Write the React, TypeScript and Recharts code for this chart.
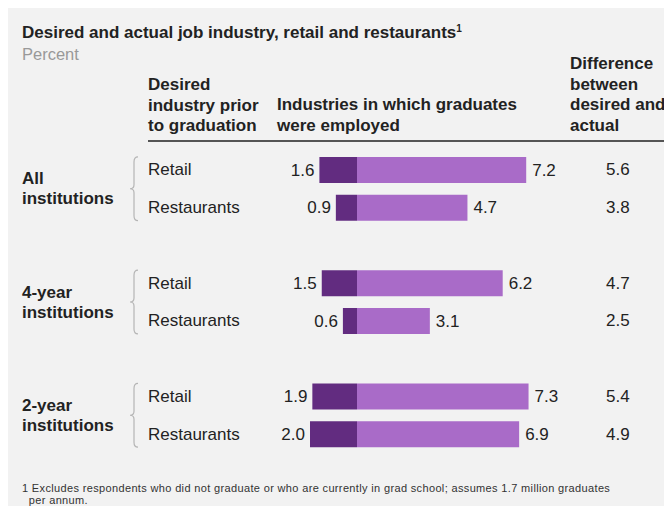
import React from "react";
import { BarChart, Bar, XAxis, YAxis, LabelList } from "recharts";

const groups = [["All", "institutions"], ["4-year", "institutions"], ["2-year", "institutions"]];
const industries = ["Retail", "Restaurants"];
const desired = [1.6, 0.9, 1.5, 0.6, 1.9, 2.0];
const actual = [7.2, 4.7, 6.2, 3.1, 7.3, 6.9];
const difference = [5.6, 3.8, 4.7, 2.5, 5.4, 4.9];

const W = 664;
const H = 498;
const TOP = 143;
const BOTTOM = 445;
const FONT = '"Liberation Sans", Arial, Helvetica, sans-serif';
const DARK = "#622c80";
const LIGHT = "#a96bc8";
const TEXT = "#222";
const FS = 17;

interface Row {
  id: string;
  group: number;
  first: boolean;
  industry: string;
  desired: number | null;
  actual: number | null;
  diff: number | null;
}

const rows: Row[] = [];
groups.forEach((_, g) => {
  industries.forEach((ind, i) => {
    const k = g * industries.length + i;
    rows.push({
      id: `r${rows.length}`,
      group: g,
      first: i === 0,
      industry: ind,
      desired: -desired[k],
      actual: actual[k],
      diff: difference[k],
    });
  });
  if (g < groups.length - 1) {
    rows.push({ id: `r${rows.length}`, group: -1, first: false, industry: "", desired: null, actual: null, diff: null });
  }
});

const STEP = (BOTTOM - TOP) / rows.length;

function RowTick(props: any) {
  const { y, payload } = props;
  const row = rows.find((r) => r.id === payload.value);
  if (!row || row.group < 0) return null;
  const mid = y + STEP / 2;
  const top = y - 13;
  const bot = y + STEP + 13;
  return (
    <g>
      {row.first && (
        <>
          <path
            d={`M130 ${top} Q126 ${top} 126 ${top + 5} L126 ${mid - 4} Q126 ${mid} 122 ${mid} Q126 ${mid} 126 ${mid + 4} L126 ${bot - 5} Q126 ${bot} 130 ${bot}`}
            fill="none"
            stroke="#b5b5b5"
            strokeWidth={1.2}
          />
          <text x={14} y={mid - 10} dominantBaseline="central" fontSize={FS} fontWeight="bold" fill={TEXT}>
            {groups[row.group][0]}
          </text>
          <text x={14} y={mid + 10} dominantBaseline="central" fontSize={FS} fontWeight="bold" fill={TEXT}>
            {groups[row.group][1]}
          </text>
        </>
      )}
      <text x={140} y={y} dominantBaseline="central" fontSize={FS} fill={TEXT}>
        {row.industry}
      </text>
      <text x={598} y={y} dominantBaseline="central" fontSize={FS} fill={TEXT}>
        {row.diff !== null ? row.diff.toFixed(1) : ""}
      </text>
    </g>
  );
}

function LeftLabel(props: any) {
  const { x, y, width, height, value } = props;
  if (value === null || value === undefined) return null;
  const left = Math.min(x, x + width);
  return (
    <text x={left - 5} y={y + height / 2} textAnchor="end" dominantBaseline="central" fontSize={FS} fill={TEXT}>
      {Math.abs(value).toFixed(1)}
    </text>
  );
}

function RightLabel(props: any) {
  const { x, y, width, height, value } = props;
  if (value === null || value === undefined) return null;
  const right = Math.max(x, x + width);
  return (
    <text x={right + 6} y={y + height / 2} textAnchor="start" dominantBaseline="central" fontSize={FS} fill={TEXT}>
      {Number(value).toFixed(1)}
    </text>
  );
}

const abs: React.CSSProperties = { position: "absolute", margin: 0, whiteSpace: "nowrap" };

export default function App() {
  return (
    <div style={{ position: "relative", width: W, height: H, background: "#f2f2f2", fontFamily: FONT, color: TEXT }}>
      <div style={{ ...abs, left: 14, top: 16, fontSize: 17, fontWeight: "bold", lineHeight: "18px" }}>
        Desired and actual job industry, retail and restaurants
        <span style={{ fontSize: 10, position: "relative", top: -6 }}>1</span>
      </div>
      <div style={{ ...abs, left: 14, top: 37, fontSize: 16.5, color: "#999", lineHeight: "18px" }}>Percent</div>

      <div style={{ ...abs, left: 140, top: 67, fontSize: FS, fontWeight: "bold", lineHeight: "20.5px" }}>
        Desired
        <br />
        industry prior
        <br />
        to graduation
      </div>
      <div style={{ ...abs, left: 269, top: 87, fontSize: FS, fontWeight: "bold", lineHeight: "20.5px" }}>
        Industries in which graduates
        <br />
        were employed
      </div>
      <div style={{ ...abs, left: 562, top: 46, fontSize: FS, fontWeight: "bold", lineHeight: "20.5px" }}>
        Difference
        <br />
        between
        <br />
        desired and
        <br />
        actual
      </div>
      <div style={{ position: "absolute", left: 140, top: 132, width: 520, height: 1.5, background: "#555" }} />

      <div style={{ position: "absolute", left: 0, top: 0 }}>
        <BarChart
          width={W}
          height={H}
          data={rows}
          layout="vertical"
          stackOffset="sign"
          margin={{ top: TOP, bottom: H - BOTTOM, left: 171.5, right: 80 }}
          style={{ fontFamily: FONT }}
        >
          <XAxis type="number" domain={[-5, 10]} hide />
          <YAxis type="category" dataKey="id" width={60} axisLine={false} tickLine={false} tick={<RowTick />} />
          <Bar dataKey="desired" stackId="a" fill={DARK} barSize={26} isAnimationActive={false}>
            <LabelList dataKey="desired" content={<LeftLabel />} />
          </Bar>
          <Bar dataKey="actual" stackId="a" fill={LIGHT} barSize={26} isAnimationActive={false}>
            <LabelList dataKey="actual" content={<RightLabel />} />
          </Bar>
        </BarChart>
      </div>

      <div style={{ ...abs, left: 14, top: 474, fontSize: 11, lineHeight: "12px", letterSpacing: 0.35, color: "#333" }}>
        1 Excludes respondents who did not graduate or who are currently in grad school; assumes 1.7 million graduates
        <br />
        &nbsp;&nbsp;per annum.
      </div>
    </div>
  );
}
